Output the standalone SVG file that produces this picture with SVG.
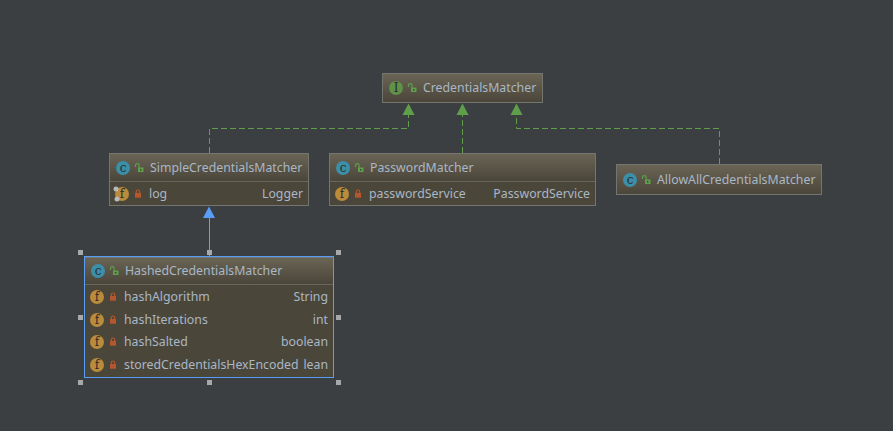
<svg xmlns="http://www.w3.org/2000/svg" width="893" height="431" viewBox="0 0 893 431">
<style>
.t{font-family:"Noto Sans","Open Sans","Liberation Sans",sans-serif;font-size:12.3px;fill:#a9b7c6}
.r{text-anchor:end}
.box{fill:#4b463a;stroke:#74756f;stroke-width:1}
.head{fill:url(#hg)}
.div{stroke:#68675f;stroke-width:1}
.dash{fill:none;stroke:#5f9e4a;stroke-width:1;stroke-dasharray:6 3}
.ag{fill:#5f9e4a}
.ic{fill:#3c8fa8}
.if{fill:#b98b3b}
.ii{fill:#5f9148}
.l{font-family:"DejaVu Serif",serif;font-size:12px;fill:#2b2b2b;text-anchor:middle}
.hd{fill:#a8a8a8}
</style>
<defs>
<linearGradient id="hg" x1="0" y1="0" x2="0" y2="1"><stop offset="0" stop-color="#6a6455"/><stop offset="1" stop-color="#4b463a"/></linearGradient>
<g id="open"><path d="M-3.500 -1V-2.500a1.800 1.800 0 0 1 3.600 0V0" fill="none" stroke="#5f9e4a" stroke-width="1.200"/><rect x="-1" y="-0.500" width="5.500" height="4.500" fill="#5f9e4a"/><rect x="1" y="1" width="1.400" height="1.500" fill="#3c3f41"/></g>
<g id="lock"><path d="M-1.700 -1V-2.300a1.700 1.700 0 0 1 3.400 0V-1" fill="none" stroke="#b5562e" stroke-width="1.200"/><rect x="-3" y="-1" width="6" height="4.700" fill="#b5562e"/></g>
</defs>
<rect width="893" height="431" fill="#3c3f41"/>
<g id="connectors">
<path class="dash" d="M209.500 153V128.500H408.500V115"/>
<path class="ag" d="M408.500 103.500l6 11.500h-12z"/>
<path class="dash" d="M462.500 153V115"/>
<path class="ag" d="M462.500 103.500l6 11.500h-12z"/>
<path class="dash" d="M719.500 164V128.500H516.500V115"/>
<path class="ag" d="M516.500 103.500l6 11.500h-12z"/>
<path d="M209.500 218V256" stroke="#6f9fdc" stroke-width="1" fill="none"/>
<path d="M209 206.500l6 11.500h-12z" fill="#589df6"/>
</g>
<g id="CredentialsMatcher">
<rect class="box" x="382.500" y="73.500" width="160" height="29"/>
<rect class="head" x="383" y="74" width="159" height="28"/>
<circle class="ii" cx="396" cy="88" r="7"/><text class="l" x="396" y="92">I</text>
<use href="#open" x="412" y="88"/>
<text class="t" x="423" y="92">CredentialsMatcher</text>
</g>
<g id="SimpleCredentialsMatcher">
<rect class="box" x="109.500" y="153.500" width="199" height="52"/>
<rect class="head" x="110" y="154" width="198" height="27"/>
<path class="div" d="M110 181.500H308"/>
<circle class="ic" cx="123" cy="168" r="7"/><text class="l" x="123" y="172">c</text>
<use href="#open" x="139" y="168"/>
<text class="t" x="150" y="172">SimpleCredentialsMatcher</text>
<circle class="if" cx="122" cy="194" r="7"/><text class="l" x="122" y="198">f</text>
<circle cx="116" cy="189" r="2.500" fill="#b8b8b8"/><circle cx="117" cy="199" r="2.500" fill="#b8b8b8"/>
<use href="#lock" x="138" y="194"/>
<text class="t" x="149" y="198">log</text>
<text class="t r" x="303" y="198">Logger</text>
</g>
<g id="PasswordMatcher">
<rect class="box" x="329.500" y="153.500" width="266" height="52"/>
<rect class="head" x="330" y="154" width="265" height="27"/>
<path class="div" d="M330 181.500H595"/>
<circle class="ic" cx="343" cy="168" r="7"/><text class="l" x="343" y="172">c</text>
<use href="#open" x="359" y="168"/>
<text class="t" x="370" y="172">PasswordMatcher</text>
<circle class="if" cx="342" cy="194" r="7"/><text class="l" x="342" y="198">f</text>
<use href="#lock" x="358" y="194"/>
<text class="t" x="369" y="198">passwordService</text>
<text class="t r" x="590" y="198">PasswordService</text>
</g>
<g id="AllowAllCredentialsMatcher">
<rect class="box" x="616.500" y="164.500" width="205" height="30"/>
<rect class="head" x="617" y="165" width="204" height="29"/>
<circle class="ic" cx="630" cy="180" r="7"/><text class="l" x="630" y="184">c</text>
<use href="#open" x="646" y="180"/>
<text class="t" x="657" y="184">AllowAllCredentialsMatcher</text>
</g>
<g id="HashedCredentialsMatcher">
<rect class="box" x="84.500" y="257.500" width="249" height="120"/>
<rect class="head" x="85" y="258" width="248" height="26"/>
<path class="div" d="M85 284.500H333"/>
<rect x="84.500" y="256.500" width="249" height="121" fill="none" stroke="#589df6"/>
<circle class="ic" cx="98" cy="271" r="7"/><text class="l" x="98" y="275">c</text>
<use href="#open" x="114" y="271"/>
<text class="t" x="125" y="275">HashedCredentialsMatcher</text>
<circle class="if" cx="97" cy="297" r="7"/><text class="l" x="97" y="301">f</text>
<use href="#lock" x="113" y="297"/>
<text class="t" x="124" y="301">hashAlgorithm</text>
<text class="t r" x="328" y="301">String</text>
<circle class="if" cx="97" cy="320" r="7"/><text class="l" x="97" y="324">f</text>
<use href="#lock" x="113" y="320"/>
<text class="t" x="124" y="324">hashIterations</text>
<text class="t r" x="328" y="324">int</text>
<circle class="if" cx="97" cy="342" r="7"/><text class="l" x="97" y="346">f</text>
<use href="#lock" x="113" y="342"/>
<text class="t" x="124" y="346">hashSalted</text>
<text class="t r" x="328" y="346">boolean</text>
<circle class="if" cx="97" cy="365" r="7"/><text class="l" x="97" y="369">f</text>
<use href="#lock" x="113" y="365"/>
<text class="t" x="124" y="369">storedCredentialsHexEncoded</text>
<text class="t r" x="328" y="369">lean</text>
<g class="hd">
<rect x="78" y="250" width="5" height="5"/><rect x="207" y="250" width="5" height="5"/><rect x="336" y="250" width="5" height="5"/>
<rect x="78" y="315" width="5" height="5"/><rect x="336" y="315" width="5" height="5"/>
<rect x="78" y="380" width="5" height="5"/><rect x="207" y="380" width="5" height="5"/><rect x="336" y="380" width="5" height="5"/>
</g>
</g>
</svg>
